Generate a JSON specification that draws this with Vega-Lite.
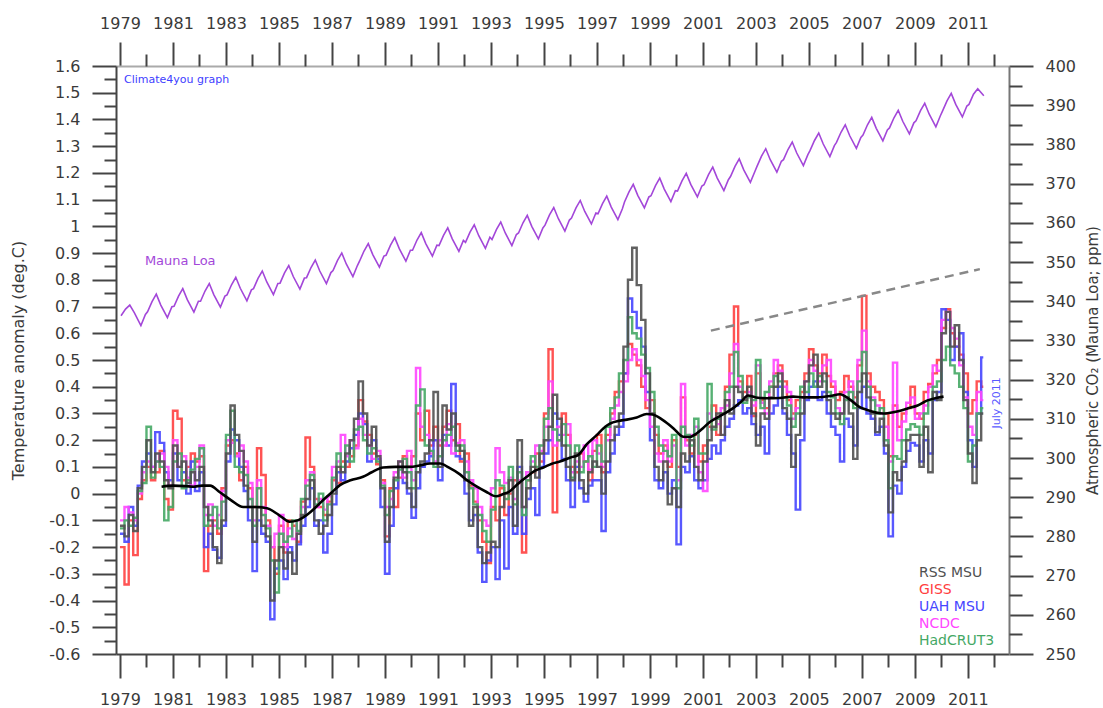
{
"$schema": "https://vega.github.io/schema/vega-lite/v6.json",
"autosize": "none",
"width": 893,
"height": 588,
"padding": {"left": 116, "top": 66, "right": 94, "bottom": 54},
"background": "white",
"config": {
  "view": {"stroke": null},
  "font": "DejaVu Sans",
  "axis": {"grid": false, "labelFont": "DejaVu Sans", "titleFont": "DejaVu Sans", "labelColor": "#3a3a3a", "titleColor": "#3a3a3a", "tickColor": "#444", "domainColor": "#444", "tickWidth": 2, "domainWidth": 2, "labelFontSize": 16, "labelOverlap": false, "labelFlush": false, "labelBound": false}
},
"datasets": {
"temp": [
{"t":1979,"R":-0.12,"G":-0.2,"U":-0.15,"N":-0.1,"H":-0.13},
{"t":1979.17,"R":-0.16,"G":-0.34,"U":-0.18,"N":-0.05,"H":-0.1},
{"t":1979.33,"R":-0.08,"G":-0.1,"U":-0.05,"N":-0.07,"H":-0.12},
{"t":1979.5,"R":-0.14,"G":-0.23,"U":-0.12,"N":-0.1,"H":-0.09},
{"t":1979.67,"R":0.02,"G":-0.02,"U":0.03,"N":0,"H":0.01},
{"t":1979.83,"R":0.1,"G":0.05,"U":0.12,"N":0.08,"H":0.04},
{"t":1980,"R":0.2,"G":0.1,"U":0.15,"N":0.12,"H":0.25},
{"t":1980.17,"R":0.08,"G":0.05,"U":0.1,"N":0.1,"H":0.06},
{"t":1980.33,"R":0.15,"G":0.08,"U":0.23,"N":0.12,"H":0.12},
{"t":1980.5,"R":0.12,"G":0.16,"U":0.19,"N":0.15,"H":0.1},
{"t":1980.67,"R":0.05,"G":-0.02,"U":0.08,"N":0.1,"H":-0.1},
{"t":1980.83,"R":0.02,"G":-0.06,"U":0.05,"N":0.03,"H":-0.05},
{"t":1981,"R":0.18,"G":0.31,"U":0.15,"N":0.2,"H":0.12},
{"t":1981.17,"R":0.1,"G":0.28,"U":0.05,"N":0.1,"H":0.15},
{"t":1981.33,"R":0.12,"G":0.05,"U":0.08,"N":0.14,"H":0.02},
{"t":1981.5,"R":0.04,"G":0.1,"U":0,"N":0.06,"H":0.05},
{"t":1981.67,"R":0.08,"G":0.15,"U":0.12,"N":0.03,"H":0.09},
{"t":1981.83,"R":0.05,"G":0.12,"U":0.01,"N":0.1,"H":0.13},
{"t":1982,"R":0.1,"G":0.14,"U":0.08,"N":0.18,"H":0.17},
{"t":1982.17,"R":-0.05,"G":-0.29,"U":-0.2,"N":-0.08,"H":-0.12},
{"t":1982.33,"R":-0.1,"G":-0.12,"U":-0.15,"N":-0.04,"H":-0.08},
{"t":1982.5,"R":-0.2,"G":-0.1,"U":-0.21,"N":-0.12,"H":-0.05},
{"t":1982.67,"R":-0.26,"G":-0.15,"U":-0.24,"N":-0.08,"H":-0.13},
{"t":1982.83,"R":-0.1,"G":0.02,"U":-0.12,"N":0.01,"H":-0.03},
{"t":1983,"R":0.15,"G":0.18,"U":0.12,"N":0.2,"H":0.22},
{"t":1983.17,"R":0.33,"G":0.2,"U":0.24,"N":0.19,"H":0.31},
{"t":1983.33,"R":0.22,"G":0.15,"U":0.2,"N":0.14,"H":0.1},
{"t":1983.5,"R":0.16,"G":0.05,"U":0.1,"N":0.18,"H":0.08},
{"t":1983.67,"R":0.03,"G":0.1,"U":0.01,"N":0.12,"H":0.07},
{"t":1983.83,"R":-0.05,"G":0.02,"U":-0.1,"N":0.04,"H":-0.02},
{"t":1984,"R":-0.18,"G":-0.05,"U":-0.29,"N":-0.1,"H":-0.12},
{"t":1984.17,"R":-0.05,"G":0.17,"U":-0.1,"N":0.05,"H":0.02},
{"t":1984.33,"R":-0.12,"G":0.07,"U":-0.15,"N":-0.05,"H":-0.08},
{"t":1984.5,"R":-0.16,"G":-0.1,"U":-0.18,"N":-0.12,"H":-0.13},
{"t":1984.67,"R":-0.4,"G":-0.2,"U":-0.47,"N":-0.2,"H":-0.25},
{"t":1984.83,"R":-0.25,"G":-0.3,"U":-0.28,"N":-0.15,"H":-0.37},
{"t":1985,"R":-0.2,"G":-0.12,"U":-0.25,"N":-0.08,"H":-0.15},
{"t":1985.17,"R":-0.28,"G":-0.22,"U":-0.32,"N":-0.2,"H":-0.18},
{"t":1985.33,"R":-0.22,"G":-0.1,"U":-0.2,"N":-0.13,"H":-0.16},
{"t":1985.5,"R":-0.3,"G":-0.12,"U":-0.25,"N":-0.17,"H":-0.1},
{"t":1985.67,"R":-0.15,"G":-0.18,"U":-0.19,"N":-0.1,"H":-0.14},
{"t":1985.83,"R":-0.08,"G":-0.03,"U":-0.12,"N":-0.05,"H":-0.02},
{"t":1986,"R":-0.02,"G":0.21,"U":-0.05,"N":0.05,"H":0.03},
{"t":1986.17,"R":0.05,"G":0.1,"U":0.02,"N":0.08,"H":0.07},
{"t":1986.33,"R":-0.1,"G":-0.02,"U":-0.12,"N":-0.05,"H":-0.04},
{"t":1986.5,"R":-0.15,"G":-0.05,"U":-0.1,"N":-0.02,"H":0},
{"t":1986.67,"R":-0.12,"G":-0.08,"U":-0.22,"N":-0.06,"H":-0.1},
{"t":1986.83,"R":-0.08,"G":-0.03,"U":-0.15,"N":-0.01,"H":-0.04},
{"t":1987,"R":0,"G":0.05,"U":-0.04,"N":0.1,"H":0.06},
{"t":1987.17,"R":0.1,"G":0.04,"U":0.08,"N":0.12,"H":0.15},
{"t":1987.33,"R":0.08,"G":0.12,"U":0.05,"N":0.22,"H":0.1},
{"t":1987.5,"R":0.15,"G":0.1,"U":0.12,"N":0.14,"H":0.18},
{"t":1987.67,"R":0.2,"G":0.14,"U":0.17,"N":0.2,"H":0.12},
{"t":1987.83,"R":0.28,"G":0.18,"U":0.22,"N":0.17,"H":0.24},
{"t":1988,"R":0.42,"G":0.35,"U":0.3,"N":0.28,"H":0.25},
{"t":1988.17,"R":0.3,"G":0.27,"U":0.26,"N":0.22,"H":0.2},
{"t":1988.33,"R":0.18,"G":0.22,"U":0.12,"N":0.18,"H":0.15},
{"t":1988.5,"R":0.25,"G":0.15,"U":0.2,"N":0.13,"H":0.17},
{"t":1988.67,"R":0.14,"G":0.11,"U":0.13,"N":0.16,"H":0.12},
{"t":1988.83,"R":0.02,"G":0.05,"U":-0.05,"N":0.04,"H":0.03},
{"t":1989,"R":-0.18,"G":-0.16,"U":-0.3,"N":-0.05,"H":-0.08},
{"t":1989.17,"R":-0.05,"G":0.02,"U":-0.12,"N":-0.02,"H":0.01},
{"t":1989.33,"R":0.06,"G":-0.05,"U":0.02,"N":0.08,"H":0.05},
{"t":1989.5,"R":0.12,"G":0.06,"U":0.1,"N":0.12,"H":0.09},
{"t":1989.67,"R":0.08,"G":0.14,"U":0.04,"N":0.06,"H":0.13},
{"t":1989.83,"R":0.02,"G":0.1,"U":0,"N":0.16,"H":0.08},
{"t":1990,"R":-0.05,"G":0.14,"U":-0.09,"N":0.05,"H":0.02},
{"t":1990.17,"R":0.08,"G":0.3,"U":0.02,"N":0.47,"H":0.33},
{"t":1990.33,"R":0.12,"G":0.2,"U":0.1,"N":0.25,"H":0.39},
{"t":1990.5,"R":0.15,"G":0.31,"U":0.12,"N":0.22,"H":0.18},
{"t":1990.67,"R":0.2,"G":0.18,"U":0.14,"N":0.15,"H":0.16},
{"t":1990.83,"R":0.38,"G":0.25,"U":0.2,"N":0.12,"H":0.1},
{"t":1991,"R":0.1,"G":0.18,"U":0.05,"N":0.2,"H":0.14},
{"t":1991.17,"R":0.33,"G":0.25,"U":0.22,"N":0.18,"H":0.2},
{"t":1991.33,"R":0.24,"G":0.31,"U":0.18,"N":0.26,"H":0.22},
{"t":1991.5,"R":0.3,"G":0.2,"U":0.41,"N":0.15,"H":0.25},
{"t":1991.67,"R":0.18,"G":0.26,"U":0.14,"N":0.19,"H":0.16},
{"t":1991.83,"R":0.16,"G":0.12,"U":0.13,"N":0.2,"H":0.18},
{"t":1992,"R":0.05,"G":0.15,"U":0,"N":0.12,"H":0.08},
{"t":1992.17,"R":-0.12,"G":0.03,"U":-0.1,"N":0.05,"H":0.02},
{"t":1992.33,"R":-0.05,"G":-0.03,"U":-0.08,"N":0.02,"H":-0.04},
{"t":1992.5,"R":-0.2,"G":-0.1,"U":-0.22,"N":-0.05,"H":-0.08},
{"t":1992.67,"R":-0.26,"G":-0.18,"U":-0.33,"N":-0.1,"H":-0.14},
{"t":1992.83,"R":-0.22,"G":-0.26,"U":-0.25,"N":-0.12,"H":-0.18},
{"t":1993,"R":-0.18,"G":-0.05,"U":-0.2,"N":0.02,"H":-0.06},
{"t":1993.17,"R":-0.2,"G":-0.1,"U":-0.32,"N":0.17,"H":0.05},
{"t":1993.33,"R":-0.05,"G":0.02,"U":-0.1,"N":0.08,"H":0.03},
{"t":1993.5,"R":0,"G":-0.08,"U":-0.28,"N":0.04,"H":-0.02},
{"t":1993.67,"R":0.05,"G":0,"U":-0.05,"N":0.06,"H":0.1},
{"t":1993.83,"R":-0.12,"G":0.05,"U":-0.15,"N":-0.02,"H":-0.04},
{"t":1994,"R":0.2,"G":0.04,"U":0.1,"N":0.05,"H":0.08},
{"t":1994.17,"R":-0.05,"G":-0.22,"U":-0.15,"N":-0.05,"H":-0.08},
{"t":1994.33,"R":0.02,"G":0.05,"U":-0.02,"N":0.08,"H":0.05},
{"t":1994.5,"R":0.1,"G":0.08,"U":0.02,"N":0.12,"H":0.14},
{"t":1994.67,"R":0.06,"G":0.15,"U":-0.08,"N":0.18,"H":0.1},
{"t":1994.83,"R":0.15,"G":0.12,"U":0.1,"N":0.16,"H":0.18},
{"t":1995,"R":0.2,"G":0.3,"U":0.15,"N":0.25,"H":0.28},
{"t":1995.17,"R":0.25,"G":0.54,"U":0.2,"N":0.42,"H":0.32},
{"t":1995.33,"R":0.37,"G":-0.07,"U":0.3,"N":0.18,"H":0.24},
{"t":1995.5,"R":0.28,"G":0.2,"U":0.22,"N":0.25,"H":0.2},
{"t":1995.67,"R":0.18,"G":0.3,"U":0.13,"N":0.22,"H":0.26},
{"t":1995.83,"R":0.1,"G":0.22,"U":0.05,"N":0.26,"H":0.18},
{"t":1996,"R":0.05,"G":0.1,"U":-0.05,"N":0.08,"H":0.06},
{"t":1996.17,"R":0.15,"G":0.08,"U":0.1,"N":0.12,"H":0.18},
{"t":1996.33,"R":0.05,"G":0.15,"U":0.02,"N":0.1,"H":0.08},
{"t":1996.5,"R":0,"G":0.12,"U":-0.03,"N":0.18,"H":0.12},
{"t":1996.67,"R":0.08,"G":0.05,"U":0.03,"N":0.09,"H":0.14},
{"t":1996.83,"R":0.12,"G":0.16,"U":0.05,"N":0.2,"H":0.1},
{"t":1997,"R":0.1,"G":0.22,"U":0.05,"N":0.15,"H":0.18},
{"t":1997.17,"R":0,"G":0.08,"U":-0.14,"N":0.1,"H":0.12},
{"t":1997.33,"R":0.12,"G":0.22,"U":0.08,"N":0.2,"H":0.25},
{"t":1997.5,"R":0.2,"G":0.3,"U":0.15,"N":0.28,"H":0.32},
{"t":1997.67,"R":0.25,"G":0.38,"U":0.22,"N":0.33,"H":0.36},
{"t":1997.83,"R":0.3,"G":0.42,"U":0.25,"N":0.38,"H":0.45},
{"t":1998,"R":0.55,"G":0.45,"U":0.45,"N":0.42,"H":0.5},
{"t":1998.17,"R":0.8,"G":0.56,"U":0.73,"N":0.5,"H":0.66},
{"t":1998.33,"R":0.92,"G":0.52,"U":0.68,"N":0.54,"H":0.6},
{"t":1998.5,"R":0.78,"G":0.48,"U":0.62,"N":0.5,"H":0.58},
{"t":1998.67,"R":0.65,"G":0.4,"U":0.55,"N":0.44,"H":0.52},
{"t":1998.83,"R":0.45,"G":0.32,"U":0.38,"N":0.35,"H":0.47},
{"t":1999,"R":0.3,"G":0.35,"U":0.2,"N":0.25,"H":0.38},
{"t":1999.17,"R":0.1,"G":0.22,"U":0.05,"N":0.15,"H":0.25},
{"t":1999.33,"R":0.05,"G":0.15,"U":0.02,"N":0.12,"H":0.18},
{"t":1999.5,"R":0.12,"G":0.18,"U":0.08,"N":0.2,"H":0.16},
{"t":1999.67,"R":-0.04,"G":0.1,"U":0,"N":0.12,"H":0.14},
{"t":1999.83,"R":0.02,"G":0.2,"U":0.05,"N":0.18,"H":0.22},
{"t":2000,"R":-0.05,"G":0.1,"U":-0.19,"N":0.05,"H":0.02},
{"t":2000.17,"R":0.15,"G":0.36,"U":0.1,"N":0.41,"H":0.25},
{"t":2000.33,"R":0.12,"G":0.2,"U":0.08,"N":0.18,"H":0.22},
{"t":2000.5,"R":0.2,"G":0.15,"U":0.14,"N":0.22,"H":0.18},
{"t":2000.67,"R":0.1,"G":0.22,"U":0.05,"N":0.25,"H":0.28},
{"t":2000.83,"R":0.05,"G":0.12,"U":0.02,"N":0.08,"H":0.15},
{"t":2001,"R":0.12,"G":0.18,"U":0.05,"N":0.01,"H":0.15},
{"t":2001.17,"R":0.2,"G":0.25,"U":0.13,"N":0.3,"H":0.41},
{"t":2001.33,"R":0.25,"G":0.33,"U":0.18,"N":0.28,"H":0.24},
{"t":2001.5,"R":0.3,"G":0.22,"U":0.15,"N":0.26,"H":0.28},
{"t":2001.67,"R":0.22,"G":0.3,"U":0.2,"N":0.32,"H":0.3},
{"t":2001.83,"R":0.35,"G":0.4,"U":0.25,"N":0.33,"H":0.38},
{"t":2002,"R":0.3,"G":0.52,"U":0.28,"N":0.45,"H":0.4},
{"t":2002.17,"R":0.4,"G":0.7,"U":0.33,"N":0.56,"H":0.53},
{"t":2002.33,"R":0.38,"G":0.42,"U":0.35,"N":0.4,"H":0.44},
{"t":2002.5,"R":0.35,"G":0.38,"U":0.3,"N":0.36,"H":0.34},
{"t":2002.67,"R":0.4,"G":0.44,"U":0.32,"N":0.38,"H":0.36},
{"t":2002.83,"R":0.3,"G":0.29,"U":0.26,"N":0.33,"H":0.35},
{"t":2003,"R":0.18,"G":0.45,"U":0.22,"N":0.48,"H":0.5},
{"t":2003.17,"R":0.3,"G":0.35,"U":0.25,"N":0.34,"H":0.32},
{"t":2003.33,"R":0.28,"G":0.32,"U":0.15,"N":0.3,"H":0.38},
{"t":2003.5,"R":0.36,"G":0.4,"U":0.3,"N":0.42,"H":0.4},
{"t":2003.67,"R":0.4,"G":0.45,"U":0.33,"N":0.5,"H":0.44},
{"t":2003.83,"R":0.45,"G":0.48,"U":0.4,"N":0.46,"H":0.42},
{"t":2004,"R":0.32,"G":0.42,"U":0.3,"N":0.4,"H":0.36},
{"t":2004.17,"R":0.28,"G":0.35,"U":0.22,"N":0.38,"H":0.33},
{"t":2004.33,"R":0.1,"G":0.3,"U":0.15,"N":0.28,"H":0.25},
{"t":2004.5,"R":0.22,"G":0.35,"U":-0.06,"N":0.32,"H":0.3},
{"t":2004.67,"R":0.3,"G":0.38,"U":0.2,"N":0.36,"H":0.4},
{"t":2004.83,"R":0.42,"G":0.45,"U":0.35,"N":0.42,"H":0.38},
{"t":2005,"R":0.48,"G":0.54,"U":0.4,"N":0.5,"H":0.45},
{"t":2005.17,"R":0.52,"G":0.48,"U":0.42,"N":0.46,"H":0.4},
{"t":2005.33,"R":0.4,"G":0.45,"U":0.35,"N":0.42,"H":0.44},
{"t":2005.5,"R":0.45,"G":0.52,"U":0.38,"N":0.48,"H":0.42},
{"t":2005.67,"R":0.35,"G":0.44,"U":0.3,"N":0.5,"H":0.38},
{"t":2005.83,"R":0.3,"G":0.4,"U":0.25,"N":0.42,"H":0.36},
{"t":2006,"R":0.28,"G":0.35,"U":0.22,"N":0.32,"H":0.3},
{"t":2006.17,"R":0.3,"G":0.38,"U":0.12,"N":0.3,"H":0.26},
{"t":2006.33,"R":0.36,"G":0.44,"U":0.28,"N":0.38,"H":0.35},
{"t":2006.5,"R":0.3,"G":0.4,"U":0.25,"N":0.42,"H":0.38},
{"t":2006.67,"R":0.13,"G":0.36,"U":0.18,"N":0.34,"H":0.32},
{"t":2006.83,"R":0.38,"G":0.48,"U":0.32,"N":0.5,"H":0.42},
{"t":2007,"R":0.45,"G":0.74,"U":0.4,"N":0.61,"H":0.53},
{"t":2007.17,"R":0.36,"G":0.45,"U":0.3,"N":0.42,"H":0.4},
{"t":2007.33,"R":0.3,"G":0.4,"U":0.28,"N":0.36,"H":0.35},
{"t":2007.5,"R":0.23,"G":0.38,"U":0.22,"N":0.33,"H":0.3},
{"t":2007.67,"R":0.28,"G":0.35,"U":0.25,"N":0.3,"H":0.32},
{"t":2007.83,"R":0.18,"G":0.3,"U":0.15,"N":0.25,"H":0.2},
{"t":2008,"R":-0.07,"G":0.14,"U":-0.16,"N":0.12,"H":0.02},
{"t":2008.17,"R":0.08,"G":0.33,"U":0.03,"N":0.49,"H":0.14},
{"t":2008.33,"R":0.05,"G":0.25,"U":0,"N":0.2,"H":0.13},
{"t":2008.5,"R":0.12,"G":0.3,"U":0.1,"N":0.27,"H":0.2},
{"t":2008.67,"R":0.2,"G":0.32,"U":0.16,"N":0.34,"H":0.24},
{"t":2008.83,"R":0.22,"G":0.4,"U":0.19,"N":0.36,"H":0.26},
{"t":2009,"R":0.22,"G":0.3,"U":0.18,"N":0.28,"H":0.25},
{"t":2009.17,"R":0.1,"G":0.28,"U":0.12,"N":0.3,"H":0.22},
{"t":2009.33,"R":0.25,"G":0.38,"U":0.2,"N":0.33,"H":0.3},
{"t":2009.5,"R":0.08,"G":0.41,"U":0.15,"N":0.4,"H":0.35},
{"t":2009.67,"R":0.38,"G":0.45,"U":0.35,"N":0.48,"H":0.4},
{"t":2009.83,"R":0.35,"G":0.5,"U":0.38,"N":0.46,"H":0.42},
{"t":2010,"R":0.6,"G":0.62,"U":0.69,"N":0.65,"H":0.5},
{"t":2010.17,"R":0.68,"G":0.69,"U":0.65,"N":0.68,"H":0.55},
{"t":2010.33,"R":0.55,"G":0.6,"U":0.5,"N":0.62,"H":0.48},
{"t":2010.5,"R":0.63,"G":0.55,"U":0.55,"N":0.58,"H":0.45},
{"t":2010.67,"R":0.5,"G":0.52,"U":0.6,"N":0.48,"H":0.4},
{"t":2010.83,"R":0.35,"G":0.45,"U":0.38,"N":0.36,"H":0.32},
{"t":2011,"R":0.15,"G":0.3,"U":0.2,"N":0.25,"H":0.12},
{"t":2011.17,"R":0.04,"G":0.35,"U":0.1,"N":0.22,"H":0.18},
{"t":2011.33,"R":0.2,"G":0.42,"U":0.3,"N":0.38,"H":0.3},
{"t":2011.5,"R":0.3,"G":0.4,"U":0.51,"N":0.35,"H":0.32},
{"t":2011.58,"R":0.3,"G":0.4,"U":0.51,"N":0.35,"H":0.32}
],
"smooth": [
{"t":1980.57,"v":0.026},{"t":1981,"v":0.03},{"t":1981.5,"v":0.028},{"t":1981.76,"v":0.026},{"t":1982.1,"v":0.03},{"t":1982.4,"v":0.03},{"t":1982.77,"v":0.005},{"t":1983.2,"v":-0.025},{"t":1983.65,"v":-0.05},{"t":1984.1,"v":-0.05},{"t":1984.55,"v":-0.055},{"t":1985,"v":-0.08},{"t":1985.4,"v":-0.105},{"t":1985.7,"v":-0.1},{"t":1986.05,"v":-0.08},{"t":1986.4,"v":-0.05},{"t":1986.67,"v":-0.024},{"t":1987,"v":0.005},{"t":1987.3,"v":0.032},{"t":1987.7,"v":0.05},{"t":1988.17,"v":0.063},{"t":1988.5,"v":0.08},{"t":1988.93,"v":0.098},{"t":1989.4,"v":0.1},{"t":1989.94,"v":0.1},{"t":1990.3,"v":0.105},{"t":1990.7,"v":0.113},{"t":1991.08,"v":0.113},{"t":1991.4,"v":0.098},{"t":1991.83,"v":0.072},{"t":1992.1,"v":0.05},{"t":1992.47,"v":0.026},{"t":1992.8,"v":0.008},{"t":1993.2,"v":-0.01},{"t":1993.45,"v":-0.002},{"t":1993.7,"v":0.008},{"t":1994,"v":0.035},{"t":1994.35,"v":0.063},{"t":1994.65,"v":0.085},{"t":1994.98,"v":0.098},{"t":1995.3,"v":0.112},{"t":1995.6,"v":0.12},{"t":1996,"v":0.135},{"t":1996.3,"v":0.145},{"t":1996.62,"v":0.185},{"t":1996.99,"v":0.219},{"t":1997.25,"v":0.245},{"t":1997.49,"v":0.262},{"t":1997.8,"v":0.272},{"t":1998.13,"v":0.277},{"t":1998.5,"v":0.285},{"t":1998.88,"v":0.298},{"t":1999.1,"v":0.296},{"t":1999.49,"v":0.275},{"t":1999.88,"v":0.245},{"t":2000.25,"v":0.213},{"t":2000.5,"v":0.212},{"t":2000.77,"v":0.226},{"t":2001,"v":0.245},{"t":2001.26,"v":0.268},{"t":2001.64,"v":0.29},{"t":2002.14,"v":0.32},{"t":2002.45,"v":0.345},{"t":2002.7,"v":0.367},{"t":2003,"v":0.36},{"t":2003.4,"v":0.357},{"t":2003.9,"v":0.358},{"t":2004.4,"v":0.363},{"t":2004.8,"v":0.36},{"t":2005.3,"v":0.36},{"t":2005.8,"v":0.365},{"t":2006.17,"v":0.372},{"t":2006.55,"v":0.352},{"t":2006.9,"v":0.325},{"t":2007.2,"v":0.313},{"t":2007.8,"v":0.3},{"t":2008.2,"v":0.305},{"t":2008.7,"v":0.318},{"t":2009.1,"v":0.33},{"t":2009.45,"v":0.348},{"t":2009.8,"v":0.358},{"t":2010.08,"v":0.363}
],
"trend": [{"t":2001.3,"v":0.61},{"t":2011.45,"v":0.84}],
"co2": [
{"t":1979.04,"c":336.3},{"t":1979.21,"c":338.0},{"t":1979.37,"c":339.0},{"t":1979.54,"c":337.1},{"t":1979.79,"c":333.8},{"t":1979.96,"c":336.6},
{"t":1980.04,"c":337.3},{"t":1980.21,"c":339.9},{"t":1980.37,"c":341.8},{"t":1980.54,"c":339.0},{"t":1980.79,"c":335.8},{"t":1980.96,"c":338.6},
{"t":1981.04,"c":338.7},{"t":1981.21,"c":341.3},{"t":1981.37,"c":343.2},{"t":1981.54,"c":340.4},{"t":1981.79,"c":337.2},{"t":1981.96,"c":340.0},
{"t":1982.04,"c":340.0},{"t":1982.21,"c":342.6},{"t":1982.37,"c":344.5},{"t":1982.54,"c":341.7},{"t":1982.79,"c":338.5},{"t":1982.96,"c":341.3},
{"t":1983.04,"c":341.6},{"t":1983.21,"c":344.2},{"t":1983.37,"c":346.1},{"t":1983.54,"c":343.3},{"t":1983.79,"c":340.1},{"t":1983.96,"c":342.9},
{"t":1984.04,"c":343.2},{"t":1984.21,"c":345.8},{"t":1984.37,"c":347.7},{"t":1984.54,"c":344.9},{"t":1984.79,"c":341.7},{"t":1984.96,"c":344.5},
{"t":1985.04,"c":344.6},{"t":1985.21,"c":347.2},{"t":1985.37,"c":349.1},{"t":1985.54,"c":346.3},{"t":1985.79,"c":343.1},{"t":1985.96,"c":345.9},
{"t":1986.04,"c":346.0},{"t":1986.21,"c":348.6},{"t":1986.37,"c":350.5},{"t":1986.54,"c":347.7},{"t":1986.79,"c":344.5},{"t":1986.96,"c":347.3},
{"t":1987.04,"c":347.8},{"t":1987.21,"c":350.4},{"t":1987.37,"c":352.3},{"t":1987.54,"c":349.5},{"t":1987.79,"c":346.3},{"t":1987.96,"c":349.1},
{"t":1988.04,"c":350.2},{"t":1988.21,"c":352.8},{"t":1988.37,"c":354.7},{"t":1988.54,"c":351.9},{"t":1988.79,"c":348.7},{"t":1988.96,"c":351.5},
{"t":1989.04,"c":351.7},{"t":1989.21,"c":354.3},{"t":1989.37,"c":356.2},{"t":1989.54,"c":353.4},{"t":1989.79,"c":350.2},{"t":1989.96,"c":353.0},
{"t":1990.04,"c":353.0},{"t":1990.21,"c":355.6},{"t":1990.37,"c":357.5},{"t":1990.54,"c":354.7},{"t":1990.79,"c":351.5},{"t":1990.96,"c":354.3},
{"t":1991.04,"c":354.2},{"t":1991.21,"c":356.8},{"t":1991.37,"c":358.7},{"t":1991.54,"c":355.9},{"t":1991.79,"c":352.7},{"t":1991.96,"c":355.5},
{"t":1992.04,"c":355.0},{"t":1992.21,"c":357.6},{"t":1992.37,"c":359.5},{"t":1992.54,"c":356.7},{"t":1992.79,"c":353.5},{"t":1992.96,"c":356.3},
{"t":1993.04,"c":355.7},{"t":1993.21,"c":358.3},{"t":1993.37,"c":360.2},{"t":1993.54,"c":357.4},{"t":1993.79,"c":354.2},{"t":1993.96,"c":357.0},
{"t":1994.04,"c":357.4},{"t":1994.21,"c":360.0},{"t":1994.37,"c":361.9},{"t":1994.54,"c":359.1},{"t":1994.79,"c":355.9},{"t":1994.96,"c":358.7},
{"t":1995.04,"c":359.4},{"t":1995.21,"c":362.0},{"t":1995.37,"c":363.9},{"t":1995.54,"c":361.1},{"t":1995.79,"c":357.9},{"t":1995.96,"c":360.7},
{"t":1996.04,"c":361.2},{"t":1996.21,"c":363.8},{"t":1996.37,"c":365.7},{"t":1996.54,"c":362.9},{"t":1996.79,"c":359.7},{"t":1996.96,"c":362.5},
{"t":1997.04,"c":362.3},{"t":1997.21,"c":364.9},{"t":1997.37,"c":366.8},{"t":1997.54,"c":364.0},{"t":1997.79,"c":360.8},{"t":1997.96,"c":363.6},
{"t":1998.04,"c":365.3},{"t":1998.21,"c":367.9},{"t":1998.37,"c":369.8},{"t":1998.54,"c":367.0},{"t":1998.79,"c":363.8},{"t":1998.96,"c":366.6},
{"t":1999.04,"c":366.9},{"t":1999.21,"c":369.5},{"t":1999.37,"c":371.4},{"t":1999.54,"c":368.6},{"t":1999.79,"c":365.4},{"t":1999.96,"c":368.2},
{"t":2000.04,"c":368.1},{"t":2000.21,"c":370.7},{"t":2000.37,"c":372.6},{"t":2000.54,"c":369.8},{"t":2000.79,"c":366.6},{"t":2000.96,"c":369.4},
{"t":2001.04,"c":369.7},{"t":2001.21,"c":372.3},{"t":2001.37,"c":374.2},{"t":2001.54,"c":371.4},{"t":2001.79,"c":368.2},{"t":2001.96,"c":371.0},
{"t":2002.04,"c":371.8},{"t":2002.21,"c":374.4},{"t":2002.37,"c":376.3},{"t":2002.54,"c":373.5},{"t":2002.79,"c":370.3},{"t":2002.96,"c":373.1},
{"t":2003.04,"c":374.4},{"t":2003.21,"c":377.0},{"t":2003.37,"c":378.9},{"t":2003.54,"c":376.1},{"t":2003.79,"c":372.9},{"t":2003.96,"c":375.7},
{"t":2004.04,"c":376.1},{"t":2004.21,"c":378.7},{"t":2004.37,"c":380.6},{"t":2004.54,"c":377.8},{"t":2004.79,"c":374.6},{"t":2004.96,"c":377.4},
{"t":2005.04,"c":378.4},{"t":2005.21,"c":381.0},{"t":2005.37,"c":382.9},{"t":2005.54,"c":380.1},{"t":2005.79,"c":376.9},{"t":2005.96,"c":379.7},
{"t":2006.04,"c":380.5},{"t":2006.21,"c":383.1},{"t":2006.37,"c":385.0},{"t":2006.54,"c":382.2},{"t":2006.79,"c":379.0},{"t":2006.96,"c":381.8},
{"t":2007.04,"c":382.4},{"t":2007.21,"c":385.0},{"t":2007.37,"c":386.9},{"t":2007.54,"c":384.1},{"t":2007.79,"c":380.9},{"t":2007.96,"c":383.7},
{"t":2008.04,"c":384.2},{"t":2008.21,"c":386.8},{"t":2008.37,"c":388.7},{"t":2008.54,"c":385.9},{"t":2008.79,"c":382.7},{"t":2008.96,"c":385.5},
{"t":2009.04,"c":386.0},{"t":2009.21,"c":388.6},{"t":2009.37,"c":390.5},{"t":2009.54,"c":387.7},{"t":2009.79,"c":384.5},{"t":2009.96,"c":387.3},
{"t":2010.04,"c":388.5},{"t":2010.21,"c":391.1},{"t":2010.37,"c":393.0},{"t":2010.54,"c":390.2},{"t":2010.79,"c":387.0},{"t":2010.96,"c":389.8},
{"t":2011.04,"c":390.2},{"t":2011.21,"c":392.8},{"t":2011.37,"c":394.2},{"t":2011.6,"c":392.4}
]
},
"layer": [
{
  "layer": [
    {
      "data": {"name": "temp"},
      "mark": {"type": "line", "interpolate": "step-after", "strokeWidth": 2.4, "opacity": 0.9},
      "encoding": {
        "x": {"field": "t", "type": "quantitative", "scale": {"domain": [1978.85, 2012.55], "nice": false, "zero": false},
              "axis": {"orient": "bottom", "values": [1979,1981,1983,1985,1987,1989,1991,1993,1995,1997,1999,2001,2003,2005,2007,2009,2011], "format": "d", "tickSize": 24, "labelPadding": 13, "title": null, "domainColor": "#444"}},
        "y": {"field": "G", "type": "quantitative", "scale": {"domain": [-0.6, 1.6], "nice": false, "zero": false},
              "axis": {"orient": "left", "values": [-0.6,-0.5,-0.4,-0.3,-0.2,-0.1,0,0.1,0.2,0.3,0.4,0.5,0.6,0.7,0.8,0.9,1,1.1,1.2,1.3,1.4,1.5,1.6], "format": ".1~f", "labelExpr": "replace(datum.label, '−', '-')", "tickSize": 24, "labelPadding": 12, "title": "Temperature anomaly (deg.C)", "titleFontSize": 16, "titleFontWeight": "normal", "titleX": -98, "titleY": 294, "titleAngle": 270, "titleAlign": "center", "titleBaseline": "middle"}},
        "color": {"datum": "GISS", "type": "nominal", "scale": {"domain": ["RSS MSU","GISS","UAH MSU","NCDC","HadCRUT3"], "range": ["#505050","#ff4040","#4646ff","#ff46ff","#45a865"]},
              "legend": {"orient": "none", "legendX": 789, "legendY": 500, "title": null, "symbolSize": 0, "symbolStrokeWidth": 0, "symbolOpacity": 0, "labelOffset": 0, "labelFontSize": 14, "labelFont": "DejaVu Sans", "rowPadding": 3, "padding": 0, "encode": {"labels": {"update": {"fill": {"scale": "color", "field": "value"}}}}}}
      }
    },
    {
      "data": {"name": "temp"},
      "mark": {"type": "line", "interpolate": "step-after", "strokeWidth": 2.4, "opacity": 0.9},
      "encoding": {
        "x": {"field": "t", "type": "quantitative", "scale": {"domain": [1978.85, 2012.55], "nice": false, "zero": false},
              "axis": {"orient": "top", "values": [1979,1981,1983,1985,1987,1989,1991,1993,1995,1997,1999,2001,2003,2005,2007,2009,2011], "format": "d", "tickSize": 24, "labelPadding": 11, "title": null, "domainColor": "#aaaaaa"}},
        "y": {"field": "U", "type": "quantitative", "scale": {"domain": [-0.6, 1.6], "nice": false, "zero": false},
              "axis": {"orient": "left", "values": [-0.55,-0.45,-0.35,-0.25,-0.15,-0.05,0.05,0.15,0.25,0.35,0.45,0.55,0.65,0.75,0.85,0.95,1.05,1.15,1.25,1.35,1.45,1.55], "labels": false, "tickSize": 12, "domain": false, "title": null}},
        "color": {"datum": "UAH MSU", "type": "nominal", "scale": {"domain": ["RSS MSU","GISS","UAH MSU","NCDC","HadCRUT3"], "range": ["#505050","#ff4040","#4646ff","#ff46ff","#45a865"]}}
      }
    },
    {
      "data": {"name": "temp"},
      "mark": {"type": "line", "interpolate": "step-after", "strokeWidth": 2.4, "opacity": 0.9},
      "encoding": {
        "x": {"field": "t", "type": "quantitative", "scale": {"domain": [1978.85, 2012.55], "nice": false, "zero": false},
              "axis": {"orient": "bottom", "values": [1980,1982,1984,1986,1988,1990,1992,1994,1996,1998,2000,2002,2004,2006,2008,2010,2012], "labels": false, "tickSize": 13, "domain": false, "title": null}},
        "y": {"field": "N", "type": "quantitative", "scale": {"domain": [-0.6, 1.6], "nice": false, "zero": false}, "axis": null},
        "color": {"datum": "NCDC", "type": "nominal", "scale": {"domain": ["RSS MSU","GISS","UAH MSU","NCDC","HadCRUT3"], "range": ["#505050","#ff4040","#4646ff","#ff46ff","#45a865"]}}
      }
    },
    {
      "data": {"name": "temp"},
      "mark": {"type": "line", "interpolate": "step-after", "strokeWidth": 2.4, "opacity": 0.9},
      "encoding": {
        "x": {"field": "t", "type": "quantitative", "scale": {"domain": [1978.85, 2012.55], "nice": false, "zero": false},
              "axis": {"orient": "top", "values": [1980,1982,1984,1986,1988,1990,1992,1994,1996,1998,2000,2002,2004,2006,2008,2010,2012], "labels": false, "tickSize": 12, "domain": false, "title": null}},
        "y": {"field": "H", "type": "quantitative", "scale": {"domain": [-0.6, 1.6], "nice": false, "zero": false}, "axis": null},
        "color": {"datum": "HadCRUT3", "type": "nominal", "scale": {"domain": ["RSS MSU","GISS","UAH MSU","NCDC","HadCRUT3"], "range": ["#505050","#ff4040","#4646ff","#ff46ff","#45a865"]}}
      }
    },
    {
      "data": {"name": "temp"},
      "mark": {"type": "line", "interpolate": "step-after", "strokeWidth": 2.4, "opacity": 0.9},
      "encoding": {
        "x": {"field": "t", "type": "quantitative", "scale": {"domain": [1978.85, 2012.55], "nice": false, "zero": false}, "axis": null},
        "y": {"field": "R", "type": "quantitative", "scale": {"domain": [-0.6, 1.6], "nice": false, "zero": false}, "axis": null},
        "color": {"datum": "RSS MSU", "type": "nominal", "scale": {"domain": ["RSS MSU","GISS","UAH MSU","NCDC","HadCRUT3"], "range": ["#505050","#ff4040","#4646ff","#ff46ff","#45a865"]}}
      }
    },
    {
      "data": {"name": "smooth"},
      "mark": {"type": "line", "color": "#000000", "strokeWidth": 2.6, "interpolate": "monotone"},
      "encoding": {
        "x": {"field": "t", "type": "quantitative", "scale": {"domain": [1978.85, 2012.55], "nice": false, "zero": false}, "axis": null},
        "y": {"field": "v", "type": "quantitative", "scale": {"domain": [-0.6, 1.6], "nice": false, "zero": false}, "axis": null}
      }
    },
    {
      "data": {"name": "trend"},
      "mark": {"type": "line", "color": "#888888", "strokeWidth": 2.5, "strokeDash": [9, 6]},
      "encoding": {
        "x": {"field": "t", "type": "quantitative", "scale": {"domain": [1978.85, 2012.55], "nice": false, "zero": false}, "axis": null},
        "y": {"field": "v", "type": "quantitative", "scale": {"domain": [-0.6, 1.6], "nice": false, "zero": false}, "axis": null}
      }
    },
    {
      "data": {"values": [{}]},
      "mark": {"type": "text", "text": "Climate4you graph", "align": "left", "baseline": "middle", "fontSize": 11, "color": "#4040ff"},
      "encoding": {
        "x": {"datum": 1979.15, "type": "quantitative", "scale": {"domain": [1978.85, 2012.55], "nice": false, "zero": false}, "axis": null},
        "y": {"datum": 1.547, "type": "quantitative", "scale": {"domain": [-0.6, 1.6], "nice": false, "zero": false}, "axis": null}
      }
    },
    {
      "data": {"values": [{}]},
      "mark": {"type": "text", "text": "July 2011", "align": "center", "baseline": "middle", "angle": 270, "fontSize": 11, "color": "#5a5aff"},
      "encoding": {
        "x": {"datum": 2012.09, "type": "quantitative", "scale": {"domain": [1978.85, 2012.55], "nice": false, "zero": false}, "axis": null},
        "y": {"datum": 0.34, "type": "quantitative", "scale": {"domain": [-0.6, 1.6], "nice": false, "zero": false}, "axis": null}
      }
    }
  ],
  "resolve": {"axis": {"x": "independent", "y": "independent"}}
},
{
  "layer": [
    {
      "data": {"name": "co2"},
      "mark": {"type": "line", "color": "#a347d9", "strokeWidth": 1.6},
      "encoding": {
        "x": {"field": "t", "type": "quantitative", "scale": {"domain": [1978.85, 2012.55], "nice": false, "zero": false}, "axis": null},
        "y": {"field": "c", "type": "quantitative", "scale": {"domain": [250, 400], "nice": false, "zero": false},
              "axis": {"orient": "right", "values": [250,260,270,280,290,300,310,320,330,340,350,360,370,380,390,400], "format": "d", "tickSize": 24, "labelPadding": 12, "domainColor": "#777777", "title": "Atmospheric CO₂ (Mauna Loa; ppm)", "titleFontSize": 15, "titleFontWeight": "normal", "titleX": 83, "titleY": 294, "titleAngle": 270, "titleAlign": "center", "titleBaseline": "middle"}}
      }
    },
    {
      "data": {"values": [{}]},
      "mark": {"type": "text", "text": "Mauna Loa", "align": "left", "baseline": "middle", "fontSize": 13, "color": "#a347d9"},
      "encoding": {
        "x": {"datum": 1979.94, "type": "quantitative", "scale": {"domain": [1978.85, 2012.55], "nice": false, "zero": false}, "axis": null},
        "y": {"datum": 350.3, "type": "quantitative", "scale": {"domain": [250, 400], "nice": false, "zero": false},
              "axis": {"orient": "right", "values": [255,265,275,285,295,305,315,325,335,345,355,365,375,385,395], "labels": false, "tickSize": 13, "domain": false, "title": null}}
      }
    }
  ],
  "resolve": {"axis": {"y": "independent"}}
}
],
"resolve": {"scale": {"y": "independent"}, "axis": {"x": "independent", "y": "independent"}}
}
